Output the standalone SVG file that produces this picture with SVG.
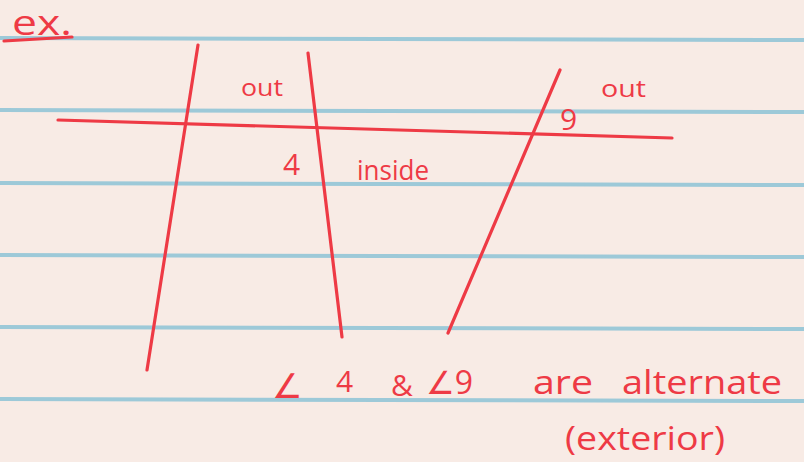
<svg xmlns="http://www.w3.org/2000/svg" width="804" height="462" viewBox="0 0 804 462">
<style>
.rule{stroke:#9dc9d8;stroke-width:4;fill:none}
.ink{stroke:#ee3a45;stroke-width:3.2;stroke-linecap:round;fill:none}
.t{fill:#ee3a45;font-family:"Open Sans","DejaVu Sans",sans-serif}
</style>
<rect width="804" height="462" fill="#f8ebe5"/>
<g id="paper-lines">
<line class="rule" x1="0" y1="38" x2="804" y2="40"/>
<line class="rule" x1="0" y1="110" x2="804" y2="112"/>
<line class="rule" x1="0" y1="183" x2="804" y2="185"/>
<line class="rule" x1="0" y1="255" x2="804" y2="257"/>
<line class="rule" x1="0" y1="327" x2="804" y2="329"/>
<line class="rule" x1="0" y1="399" x2="804" y2="401"/>
</g>
<g id="connectors">
<line class="ink" x1="58" y1="120" x2="672" y2="138"/>
<line class="ink" x1="198" y1="45" x2="147" y2="370"/>
<line class="ink" x1="308" y1="53" x2="342" y2="337"/>
<line class="ink" x1="560" y1="70" x2="448" y2="333"/>
<line class="ink" x1="4" y1="41" x2="72" y2="37" stroke-width="2.5"/>
</g>
<g id="title"><text class="t" x="12" y="35" font-size="34" textLength="60" lengthAdjust="spacingAndGlyphs">ex.</text></g>
<g id="out1"><text class="t" x="241" y="96" font-size="24" textLength="42" lengthAdjust="spacingAndGlyphs">out</text></g>
<g id="angle4"><text class="t" x="283" y="175" font-size="30">4</text></g>
<g id="inside"><text class="t" x="357" y="180" font-size="28" textLength="72" lengthAdjust="spacingAndGlyphs">inside</text></g>
<g id="angle9"><text class="t" x="560" y="130" font-size="30">9</text></g>
<g id="out2"><text class="t" x="601" y="97" font-size="24" textLength="45" lengthAdjust="spacingAndGlyphs">out</text></g>
<g id="statement">
<text class="t" x="272" y="398" font-size="34">∠</text>
<text class="t" x="336" y="392" font-size="30">4</text>
<text class="t" x="391" y="396" font-size="30">&amp;</text>
<text class="t" x="426" y="394" font-size="32">∠9</text>
<text class="t" x="533" y="394" font-size="32" textLength="60" lengthAdjust="spacingAndGlyphs">are</text>
<text class="t" x="622" y="394" font-size="32" textLength="160" lengthAdjust="spacingAndGlyphs">alternate</text>
<text class="t" x="565" y="450" font-size="32" textLength="160" lengthAdjust="spacingAndGlyphs">(exterior)</text>
</g>
</svg>
